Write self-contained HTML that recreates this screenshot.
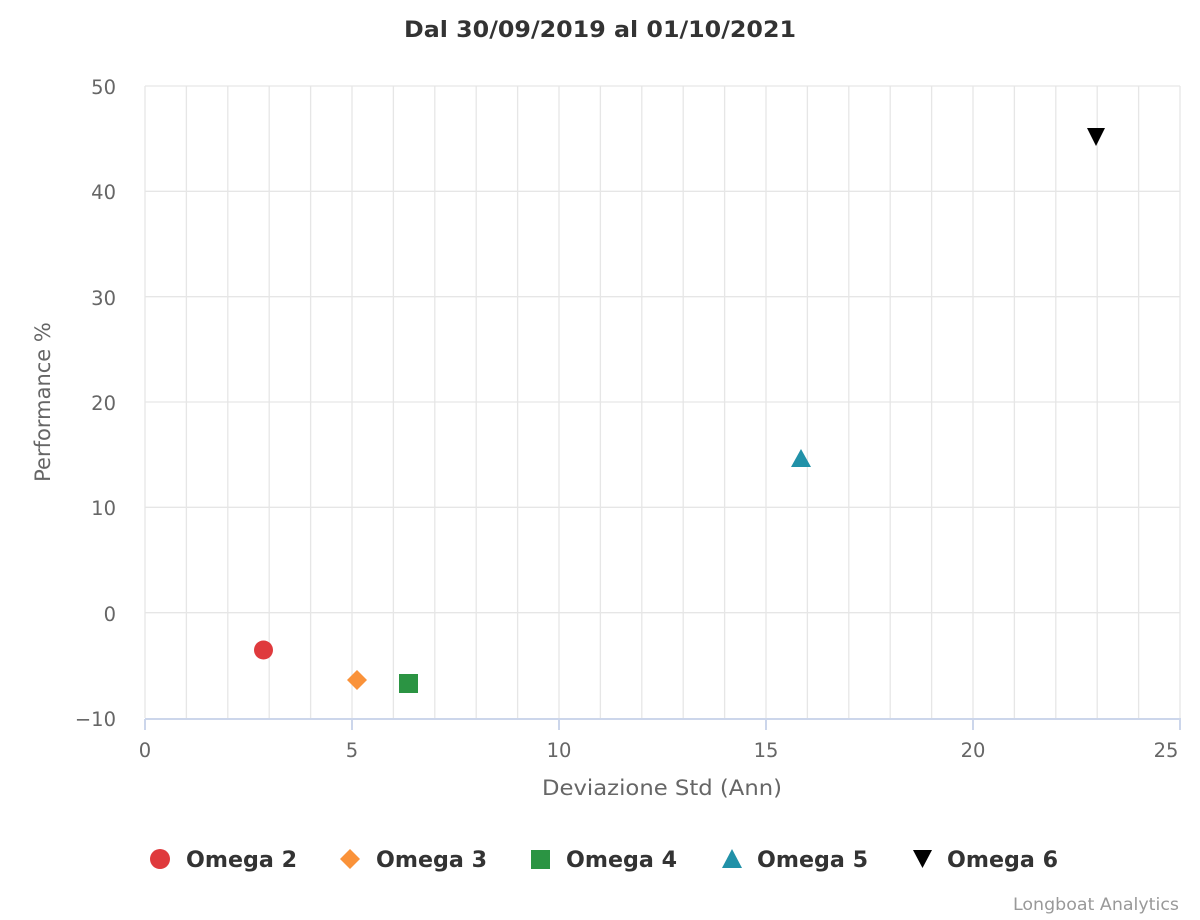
<!DOCTYPE html>
<html><head><meta charset="utf-8"><style>body{margin:0;background:#fff}svg{display:block}</style></head><body>
<svg width="1200" height="920" xmlns="http://www.w3.org/2000/svg" font-family="DejaVu Sans, Liberation Sans, sans-serif">
<rect width="1200" height="920" fill="#fff"/>
<text x="404" y="37" font-size="22" font-weight="bold" fill="#333" textLength="392" lengthAdjust="spacingAndGlyphs">Dal 30/09/2019 al 01/10/2021</text>
<g stroke="#e6e6e6" stroke-width="1.3">
<line x1="186.4" y1="86" x2="186.4" y2="718"/><line x1="227.8" y1="86" x2="227.8" y2="718"/><line x1="269.2" y1="86" x2="269.2" y2="718"/><line x1="310.6" y1="86" x2="310.6" y2="718"/><line x1="352" y1="86" x2="352" y2="718"/>
<line x1="393.4" y1="86" x2="393.4" y2="718"/><line x1="434.8" y1="86" x2="434.8" y2="718"/><line x1="476.2" y1="86" x2="476.2" y2="718"/><line x1="517.6" y1="86" x2="517.6" y2="718"/><line x1="559" y1="86" x2="559" y2="718"/>
<line x1="600.4" y1="86" x2="600.4" y2="718"/><line x1="641.8" y1="86" x2="641.8" y2="718"/><line x1="683.2" y1="86" x2="683.2" y2="718"/><line x1="724.6" y1="86" x2="724.6" y2="718"/><line x1="766" y1="86" x2="766" y2="718"/>
<line x1="807.4" y1="86" x2="807.4" y2="718"/><line x1="848.8" y1="86" x2="848.8" y2="718"/><line x1="890.2" y1="86" x2="890.2" y2="718"/><line x1="931.6" y1="86" x2="931.6" y2="718"/><line x1="973" y1="86" x2="973" y2="718"/>
<line x1="1014.4" y1="86" x2="1014.4" y2="718"/><line x1="1055.8" y1="86" x2="1055.8" y2="718"/><line x1="1097.2" y1="86" x2="1097.2" y2="718"/><line x1="1138.6" y1="86" x2="1138.6" y2="718"/><line x1="1180" y1="86" x2="1180" y2="718"/>
<line x1="145" y1="86" x2="145" y2="718"/>
<line x1="145" y1="86" x2="1180" y2="86"/><line x1="145" y1="191.3" x2="1180" y2="191.3"/><line x1="145" y1="296.7" x2="1180" y2="296.7"/><line x1="145" y1="402" x2="1180" y2="402"/><line x1="145" y1="507.3" x2="1180" y2="507.3"/><line x1="145" y1="612.7" x2="1180" y2="612.7"/>
</g>
<g stroke="#ccd6eb" stroke-width="2">
<line x1="145" y1="719" x2="1181" y2="719"/>
<line x1="145" y1="719" x2="145" y2="730"/><line x1="352" y1="719" x2="352" y2="730"/><line x1="559" y1="719" x2="559" y2="730"/><line x1="766" y1="719" x2="766" y2="730"/><line x1="973" y1="719" x2="973" y2="730"/><line x1="1180" y1="719" x2="1180" y2="730"/>
</g>
<g font-size="19.5" fill="#666" text-anchor="end">
<text x="116" y="94">50</text><text x="116" y="199">40</text><text x="116" y="305">30</text><text x="116" y="410">20</text><text x="116" y="515">10</text><text x="116" y="621">0</text><text x="116" y="726">−10</text>
</g>
<g font-size="19.5" fill="#666" text-anchor="middle">
<text x="145" y="757">0</text><text x="352" y="757">5</text><text x="559" y="757">10</text><text x="766" y="757">15</text><text x="973" y="757">20</text><text x="1166" y="757">25</text>
</g>
<text x="542" y="795" font-size="21" fill="#666" textLength="240" lengthAdjust="spacingAndGlyphs">Deviazione Std (Ann)</text>
<text transform="translate(50,402) rotate(-90)" text-anchor="middle" font-size="21" fill="#666">Performance %</text>
<circle cx="263.5" cy="650" r="9.5" fill="#df3a3d"/>
<polygon points="357,670 367,680 357,690 347,680" fill="#fa9239"/>
<rect x="399" y="674" width="19" height="19" fill="#2b9443"/>
<polygon points="801,449 811,467 791,467" fill="#2191a8"/>
<polygon points="1087,128 1105,128 1096,146" fill="#000"/>
<g font-size="22" font-weight="bold" fill="#333">
<circle cx="160" cy="859" r="10" fill="#df3a3d"/><text x="186" y="867" textLength="111" lengthAdjust="spacingAndGlyphs">Omega 2</text>
<polygon points="350,849 360,859 350,869 340,859" fill="#fa9239"/><text x="376" y="867" textLength="111" lengthAdjust="spacingAndGlyphs">Omega 3</text>
<rect x="531" y="850" width="19" height="19" fill="#2b9443"/><text x="566" y="867" textLength="111" lengthAdjust="spacingAndGlyphs">Omega 4</text>
<polygon points="732,849 742,868 722,868" fill="#2191a8"/><text x="757" y="867" textLength="111" lengthAdjust="spacingAndGlyphs">Omega 5</text>
<polygon points="913,850 932,850 922.5,868" fill="#000"/><text x="947" y="867" textLength="111" lengthAdjust="spacingAndGlyphs">Omega 6</text>
</g>
<text x="1013" y="910" font-size="17" fill="#999" textLength="166" lengthAdjust="spacingAndGlyphs">Longboat Analytics</text>
</svg>
</body></html>
